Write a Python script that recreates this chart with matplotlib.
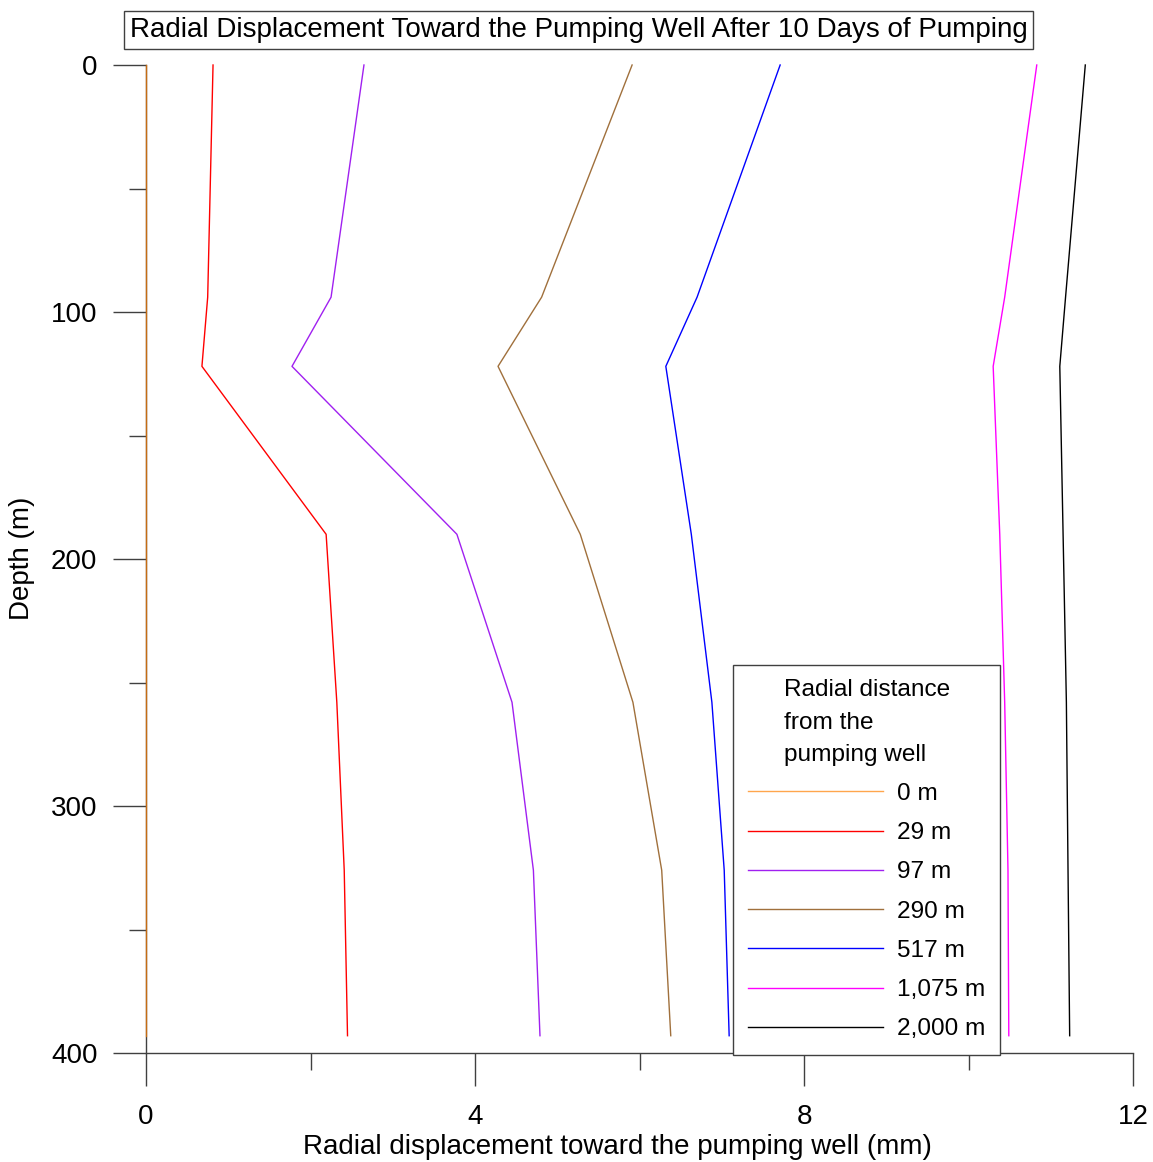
import matplotlib
matplotlib.use("Agg")
import matplotlib.pyplot as plt
from matplotlib.ticker import MultipleLocator

plt.rcParams['font.family'] = ['Liberation Sans', 'DejaVu Sans']

# Depth of each computed node (m)
depth = [0, 94, 122, 190, 258, 326, 393]

# Radial displacement toward the well (mm) at each node, per radial distance
disp_0m = [0.0, 0.0, 0.0, 0.0, 0.0, 0.0, 0.0]
disp_29m = [0.815, 0.75, 0.68, 2.19, 2.32, 2.41, 2.45]
disp_97m = [2.65, 2.25, 1.775, 3.78, 4.45, 4.71, 4.79]
disp_290m = [5.91, 4.81, 4.28, 5.28, 5.92, 6.27, 6.38]
disp_517m = [7.71, 6.70, 6.32, 6.63, 6.88, 7.03, 7.09]
disp_1075m = [10.83, 10.44, 10.30, 10.38, 10.44, 10.48, 10.49]
disp_2000m = [11.42, 11.18, 11.11, 11.15, 11.19, 11.21, 11.23]

series_labels = ["0 m", "29 m", "97 m", "290 m", "517 m", "1,075 m", "2,000 m"]
series_values = [disp_0m, disp_29m, disp_97m, disp_290m, disp_517m, disp_1075m, disp_2000m]
series_colors = ["#FF8000", "#FF0000", "#A020F0", "#A0703C", "#0000FF", "#FF00FF", "#000000"]
series_alpha = [0.7, 1, 1, 1, 1, 1, 1]

x_ticks = [0, 4, 8, 12]
y_ticks = [0, 100, 200, 300, 400]

FS = 20
LEG_FS = 17.6
W, H = 1153, 1162
fig = plt.figure(figsize=(W / 100, H / 100), dpi=100)
ax = fig.add_axes([146 / W, (H - 1053) / H, (1133 - 146) / W, (1053 - 65) / H])

spine_col = "#404040"
for vals, lab, col, a in zip(series_values, series_labels, series_colors, series_alpha):
    ax.plot(vals, depth, color=col, lw=1.0, alpha=a, label=lab, clip_on=False, zorder=3)

ax.set_xlim(0, 12)
ax.set_ylim(400, 0)
ax.set_xticks(x_ticks)
ax.set_yticks(y_ticks)
ax.xaxis.set_minor_locator(MultipleLocator(2))
ax.yaxis.set_minor_locator(MultipleLocator(50))

for s in ("top", "right"):
    ax.spines[s].set_visible(False)
for s in ("left", "bottom"):
    ax.spines[s].set_color(spine_col)
    ax.spines[s].set_linewidth(1.0)

ax.tick_params(which="major", direction="out", length=24, width=1.0, color=spine_col,
               labelsize=FS, pad=13)
ax.tick_params(which="minor", direction="out", length=12, width=1.0, color=spine_col)
ax.tick_params(axis="y", which="major", pad=11)

fig.text(617 / W, 1 - 1147 / H, "Radial displacement toward the pumping well (mm)",
         ha="center", va="center", fontsize=FS)
fig.text(22 / W, 1 - 558 / H, "Depth (m)", rotation=90,
         ha="center", va="center", fontsize=FS)

fig.text(578.5 / W, 1 - 30 / H,
         "Radial Displacement Toward the Pumping Well After 10 Days of Pumping",
         ha="center", va="center", fontsize=FS,
         bbox=dict(boxstyle="square,pad=0.2", facecolor="white",
                   edgecolor=spine_col, linewidth=1.0))

leg = ax.legend(loc="lower right",
                bbox_to_anchor=((1000 - 146) / 987, -0.002),
                borderaxespad=0,
                title="Radial distance\nfrom the\npumping well",
                fontsize=LEG_FS, title_fontsize=LEG_FS,
                handlelength=5.53, handletextpad=0.57, labelspacing=0.7,
                borderpad=0.6, fancybox=False, framealpha=1,
                edgecolor=spine_col)
leg.get_frame().set_linewidth(1.0)
leg.get_title().set_multialignment("left")
leg.get_title().set_linespacing(1.6)
leg.set_zorder(5)

fig.savefig("out.png", dpi=100)
